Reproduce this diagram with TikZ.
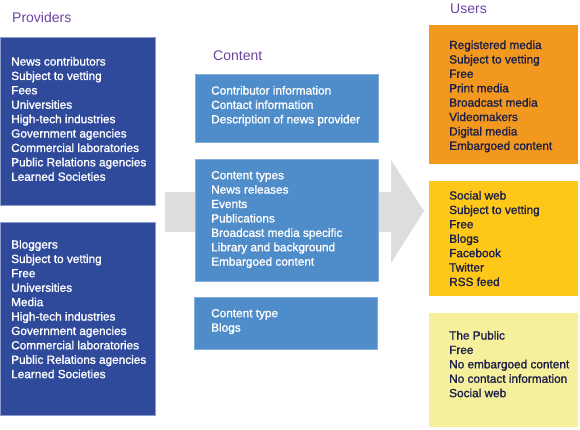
\documentclass[tikz,border=0pt]{standalone}
\usepackage{fontspec}
\setmainfont{Liberation Sans}
\newfontfamily\boxfont{Liberation Sans}[FakeBold=1.3]
\usepackage{tikz}
\usetikzlibrary{positioning}
\usepackage{xcolor}
\definecolor{provblue}{HTML}{2F4A9B}
\definecolor{contblue}{HTML}{4F8CCA}
\definecolor{useorange}{HTML}{F3981E}
\definecolor{useyellow}{HTML}{FDC818}
\definecolor{usepale}{HTML}{F6EF9C}
\definecolor{headpurple}{HTML}{6B43A0}
\definecolor{usenavy}{HTML}{1C2048}
\definecolor{flowgrey}{HTML}{DDDDDD}
\tikzstyle{heading} = [anchor=base west, inner sep=0pt, text=headpurple, font=\fontsize{14}{16}\selectfont]
\tikzstyle{panel} = [rectangle, anchor=north west, inner sep=0pt]
\tikzstyle{provider} = [panel, fill=provblue, draw=provblue!55!white, line width=0.5pt]
\tikzstyle{content} = [panel, fill=contblue, draw=contblue!70!white, line width=0.5pt]
\tikzstyle{entry} = [anchor=north west, inner sep=0pt, align=left, font=\boxfont\fontsize{11.8}{14.4}\selectfont]
\tikzstyle{provtext} = [entry, text=white]
\tikzstyle{usertext} = [entry, text=usenavy]

\begin{document}
\begin{tikzpicture}[x=1pt, y=-1pt]
    \useasboundingbox (0,0) rectangle (580,429);

    % big grey arrow behind the content column
    \coordinate (flowL) at (165,212);
    \coordinate (flowtip) at (424,211);
    \fill [flowgrey] (165,192) -- (391,192) -- (391,160) -- (flowtip) -- (391,263) -- (391,232) -- (165,232) -- cycle;

    \node (hprov) [heading] at (12,22) {Providers};
    \node (hcont) [heading] at (213,60) {Content};
    \node (husers) [heading] at (450,13) {Users};

    \node (prov1) [provider, minimum width=155pt, minimum height=168pt] at (0,37) {};
    \node (prov2) [provider, minimum width=155pt, minimum height=193pt] at (0,222) {};
    \node (cont1) [content, minimum width=183pt, minimum height=68pt] at (195,74) {};
    \node (cont2) [content, minimum width=183pt, minimum height=122pt] at (195,159) {};
    \node (cont3) [content, minimum width=183pt, minimum height=52pt] at (194,297) {};
    \node (user1) [panel, fill=useorange, minimum width=149pt, minimum height=139pt] at (429,25) {};
    \node (user2) [panel, fill=useyellow, minimum width=149pt, minimum height=115pt] at (429,181) {};
    \node (user3) [panel, fill=usepale, minimum width=149pt, minimum height=114pt] at (429,313) {};

    \node (prov1txt) [provtext, below right=19.8pt and 11pt of prov1.north west] {News contributors\\Subject to vetting\\Fees\\Universities\\High-tech industries\\Government agencies\\Commercial laboratories\\Public Relations agencies\\Learned Societies};
    \node (prov2txt) [provtext, below right=17.8pt and 11pt of prov2.north west] {Bloggers\\Subject to vetting\\Free\\Universities\\Media\\High-tech industries\\Government agencies\\Commercial laboratories\\Public Relations agencies\\Learned Societies};

    \node (cont1txt) [provtext, below right=11.8pt and 16pt of cont1.north west] {Contributor information\\Contact information\\Description of news provider};
    \node (cont2txt) [provtext, below right=11.8pt and 16pt of cont2.north west] {Content types\\News releases\\Events\\Publications\\Broadcast media specific\\Library and background\\Embargoed content};
    \node (cont3txt) [provtext, below right=11.8pt and 17pt of cont3.north west] {Content type\\Blogs};

    \node (user1txt) [usertext, below right=15.3pt and 20pt of user1.north west] {Registered media\\Subject to vetting\\Free\\Print media\\Broadcast media\\Videomakers\\Digital media\\Embargoed content};
    \node (user2txt) [usertext, below right=9.8pt and 20pt of user2.north west] {Social web\\Subject to vetting\\Free\\Blogs\\Facebook\\Twitter\\RSS feed};
    \node (user3txt) [usertext, below right=17.8pt and 20pt of user3.north west] {The Public\\Free\\No embargoed content\\No contact information\\Social web};
\end{tikzpicture}
\end{document}
